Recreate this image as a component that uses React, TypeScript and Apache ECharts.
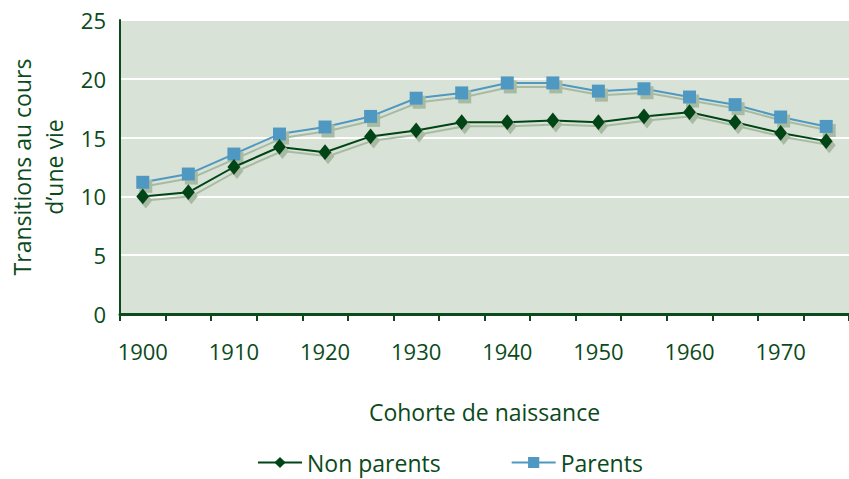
import React, { useEffect, useRef } from "react";
import * as echarts from "echarts";

const categories = ["1900", "1905", "1910", "1915", "1920", "1925", "1930", "1935", "1940", "1945", "1950", "1955", "1960", "1965", "1970", "1975"];
const nonParents = [10.0, 10.35, 12.5, 14.2, 13.75, 15.1, 15.6, 16.3, 16.3, 16.45, 16.3, 16.8, 17.15, 16.3, 15.4, 14.7];
const parents = [11.2, 11.9, 13.6, 15.3, 15.9, 16.8, 18.35, 18.8, 19.65, 19.65, 18.95, 19.15, 18.45, 17.8, 16.75, 15.95];
const yTicks = { min: 0, max: 25, interval: 5 };

const TEXT = "#0b4a1a";
const FONT = "'Open Sans', 'Noto Sans', sans-serif";
const SHADOW = "#a7bba2";

export default function App() {
  const ref = useRef<HTMLDivElement>(null);
  useEffect(() => {
    if (!ref.current) return;
    const chart = echarts.init(ref.current, undefined, { renderer: "svg" });
    chart.setOption({
      animation: false,
      textStyle: { fontFamily: FONT, color: TEXT },
      grid: {
        left: 120,
        right: 0,
        top: 20,
        bottom: 165,
        show: true,
        backgroundColor: "#d8e2d6",
        borderWidth: 0,
        containLabel: false,
        outerBoundsMode: "none",
      },
      legend: {
        bottom: 0,
        left: 252,
        itemWidth: 44,
        itemHeight: 14,
        itemGap: 70,
        textStyle: { fontFamily: FONT, color: TEXT, fontSize: 23 },
        data: ["Non parents", "Parents"],
      },
      xAxis: {
        type: "category",
        data: categories,
        boundaryGap: true,
        name: "Cohorte de naissance",
        nameLocation: "middle",
        nameGap: 86,
        nameTextStyle: { fontFamily: FONT, color: TEXT, fontSize: 23 },
        axisLine: { lineStyle: { color: TEXT, width: 3 } },
        axisTick: { show: true, interval: 0, length: 7, lineStyle: { color: TEXT, width: 2 } },
        axisLabel: {
          interval: 1,
          margin: 26,
          fontFamily: FONT,
          color: TEXT,
          fontSize: 22,
        },
        splitLine: { show: false },
      },
      yAxis: {
        type: "value",
        min: yTicks.min,
        max: yTicks.max,
        interval: yTicks.interval,
        name: "Transitions au cours\nd\u2019une vie",
        nameLocation: "middle",
        nameGap: 48,
        nameRotate: 90,
        nameTextStyle: { fontFamily: FONT, color: TEXT, fontSize: 23, lineHeight: 32 },
        axisLine: { show: true, lineStyle: { color: TEXT, width: 2 } },
        axisTick: { show: false },
        axisLabel: { margin: 14, fontFamily: FONT, color: TEXT, fontSize: 22 },
        splitLine: { show: true, lineStyle: { color: "#ffffff", width: 2 } },
      },
      series: [
        {
          name: "Non parents",
          type: "line",
          data: nonParents,
          symbol: "diamond",
          symbolSize: [13, 16],
          lineStyle: {
            color: "#004516",
            width: 2,
            shadowColor: SHADOW,
            shadowOffsetX: 3,
            shadowOffsetY: 4,
            shadowBlur: 0,
          },
          itemStyle: {
            color: "#004516",
            shadowColor: SHADOW,
            shadowOffsetX: 3,
            shadowOffsetY: 4,
            shadowBlur: 0,
          },
          z: 3,
        },
        {
          name: "Parents",
          type: "line",
          data: parents,
          symbol: "rect",
          symbolSize: 13,
          lineStyle: {
            color: "#4f98c2",
            width: 2,
            shadowColor: SHADOW,
            shadowOffsetX: 3,
            shadowOffsetY: 4,
            shadowBlur: 0,
          },
          itemStyle: {
            color: "#4f98c2",
            shadowColor: SHADOW,
            shadowOffsetX: 3,
            shadowOffsetY: 4,
            shadowBlur: 0,
          },
          z: 2,
        },
      ],
    });
    return () => chart.dispose();
  }, []);
  return <div ref={ref} style={{ width: 849, height: 479, position: "absolute", left: 0, top: 0 }} />;
}
